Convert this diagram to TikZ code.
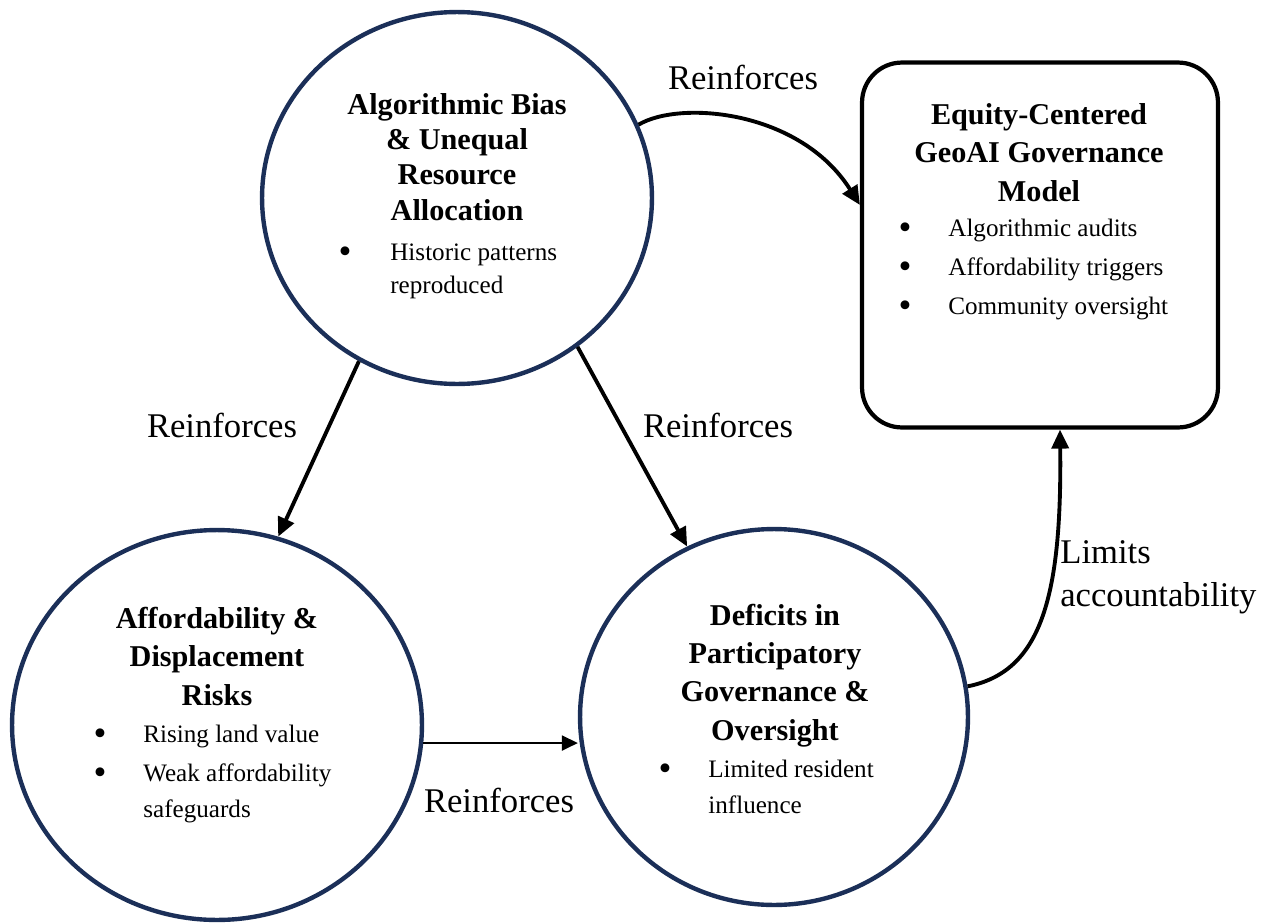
\documentclass[tikz,border=0pt]{standalone}
\usepackage{fontspec}
\setmainfont{Liberation Serif}
\usetikzlibrary{shapes.geometric,arrows.meta,calc}

\definecolor{ringblue}{HTML}{1B2F58}

\tikzset{
  ring/.style={ellipse, draw=ringblue, line width=2.5pt, inner sep=0pt},
  govbox/.style={rectangle, rounded corners=0.8cm, draw=black, line width=2.4pt,
    minimum width=7.12cm, minimum height=7.3cm},
  % multi-line texts are anchored at the baseline of their last line
  heading/.style={font=\fontsize{17.2}{21.8}\selectfont\bfseries, align=center,
    anchor=base, inner sep=0pt},
  dot/.style={font=\fontsize{21}{21}\selectfont, anchor=base, inner sep=0pt},
  itemtext/.style={font=\fontsize{14.3}{20.4}\selectfont, align=left,
    anchor=base west, inner sep=0pt},
  linklabel/.style={font=\fontsize{19.7}{24.4}\selectfont, anchor=base, inner sep=0pt},
  link/.style={line width=2.2pt, -{Triangle[length=0.38cm,width=0.34cm]}},
}

\begin{document}
\begin{tikzpicture}[x=0.02cm, y=-0.02cm]
\useasboundingbox (0,0) rectangle (1275,923);

% circles and the model box
\node[ring, minimum width=7.8cm, minimum height=7.44cm] (bias) at (457,198) {};
\node[ring, minimum width=8.2cm, minimum height=7.8cm] (afford) at (217,725) {};
\node[ring, minimum width=7.76cm, minimum height=7.52cm] (deficit) at (774,717) {};
\node[govbox] (model) at (1040,245) {};

% headings
\node[heading, font=\fontsize{17.2}{20.1}\selectfont\bfseries] (biasHead) at (457,220)
  {Algorithmic Bias\\ \& Unequal\\ Resource\\ Allocation};
\node[heading] (affordHead) at (217,705) {Affordability \&\\ Displacement\\ Risks};
\node[heading] (deficitHead) at (775,740)
  {Deficits in\\ Participatory\\ Governance \&\\ Oversight};
\node[heading] (modelHead) at (1039,201) {Equity-Centered\\ GeoAI Governance\\ Model};

% bullet points
\node[dot] (biasDot) at (345,263) {\textbullet};
\node[itemtext, font=\fontsize{14.3}{18.7}\selectfont] (biasItem) at (390,293)
  {Historic patterns\\ reproduced};

\node[dot] (modelDotA) at (905,239) {\textbullet};
\node[itemtext] (modelItemA) at (948,236) {Algorithmic audits};
\node[dot] (modelDotB) at (905,278) {\textbullet};
\node[itemtext] (modelItemB) at (948,275) {Affordability triggers};
\node[dot] (modelDotC) at (905,317) {\textbullet};
\node[itemtext] (modelItemC) at (948,314) {Community oversight};

\node[dot] (affordDotA) at (100,745) {\textbullet};
\node[itemtext] (affordItemA) at (143,742) {Rising land value};
\node[dot] (affordDotB) at (100,784) {\textbullet};
\node[itemtext] (affordItemB) at (143,817) {Weak affordability\\ safeguards};

\node[dot] (deficitDot) at (665,780) {\textbullet};
\node[itemtext] (deficitItem) at (708,813) {Limited resident\\ influence};

% connectors
\draw[link] (bias.22) .. controls (680,100) and (800,110) .. ($(model.west)+(0,-40)$);
\draw[link] (bias.239) -- (afford.72);
\draw[link] (bias.309) -- (deficit.117);
\draw[link, line width=1.2pt, -{Triangle[length=0.32cm,width=0.3cm]}]
  (afford.-5) -- (afford.-5 -| deficit.west);
\draw[link] (deficit.9) .. controls (1040,672) and (1062,600) .. ($(model.south)+(20,0)$);

% connector labels
\node[linklabel] (lblModel) at (743,89) {Reinforces};
\node[linklabel] (lblAfford) at (222,437) {Reinforces};
\node[linklabel] (lblDeficit) at (718,437) {Reinforces};
\node[linklabel] (lblAcross) at (499,812) {Reinforces};
\node[linklabel, align=left, anchor=base west] (lblLimits) at (1060,606)
  {Limits\\ accountability};
\end{tikzpicture}
\end{document}
